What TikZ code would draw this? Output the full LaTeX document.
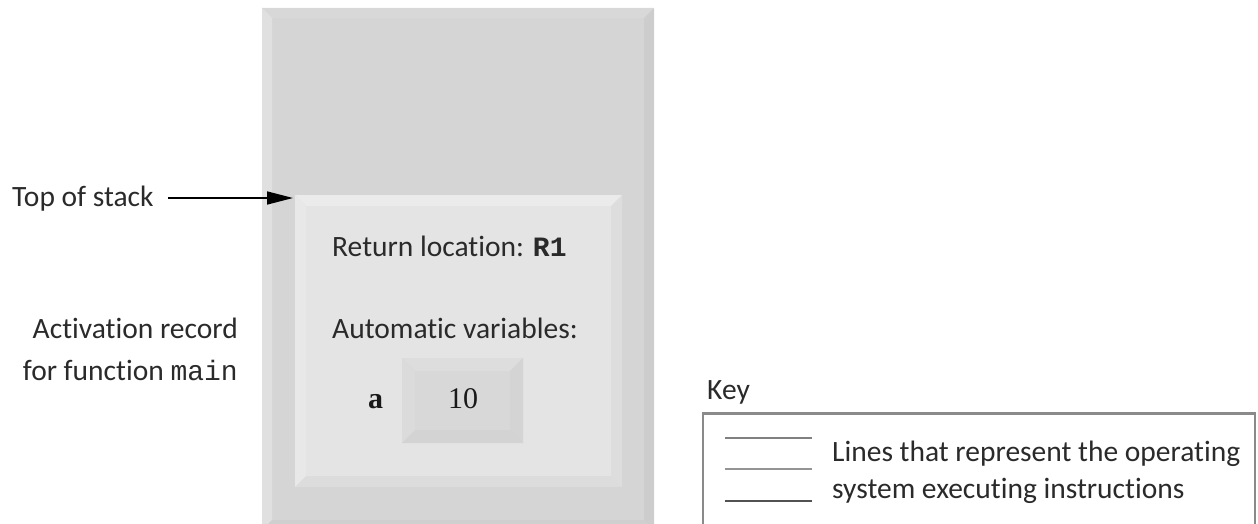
\documentclass[tikz,border=0pt]{standalone}
\usepackage{fontspec}
\setmainfont{Carlito}[Ligatures={NoCommon}]
\newfontfamily\monofnt{Liberation Mono}
\newfontfamily\seriffnt{Liberation Serif}
\usetikzlibrary{arrows.meta}
\definecolor{colF}{HTML}{D5D5D5}
\definecolor{colT}{HTML}{D8D8D8}
\definecolor{colL}{HTML}{E0E0E0}
\definecolor{colR}{HTML}{CDCDCD}
\definecolor{colB}{HTML}{CFCFCF}
\definecolor{recF}{HTML}{E4E4E4}
\definecolor{recT}{HTML}{EBEBEB}
\definecolor{recL}{HTML}{E8E8E8}
\definecolor{recR}{HTML}{DDDDDD}
\definecolor{recB}{HTML}{DCDCDC}
\definecolor{valF}{HTML}{D8D8D8}
\definecolor{valT}{HTML}{DDDDDD}
\definecolor{valL}{HTML}{DBDBDB}
\definecolor{valR}{HTML}{D4D4D4}
\definecolor{valB}{HTML}{D3D3D3}
\definecolor{keygray}{HTML}{8A8A8A}
\definecolor{txt}{HTML}{2A2A2A}
% #1 x1, #2 y1, #3 x2, #4 y2, #5 inset, #6 colour prefix
\newcommand\bvlbox[6]{%
  \fill[#6F] (#1,#2) rectangle (#3,#4);
  \fill[#6T] (#1,#2) -- (#3,#2) -- (#3-#5,#2+#5) -- (#1+#5,#2+#5) -- cycle;
  \fill[#6L] (#1,#2) -- (#1+#5,#2+#5) -- (#1+#5,#4-#5) -- (#1,#4) -- cycle;
  \fill[#6R] (#3,#2) -- (#3,#4) -- (#3-#5,#4-#5) -- (#3-#5,#2+#5) -- cycle;
  \fill[#6B] (#1,#4) -- (#3,#4) -- (#3-#5,#4-#5) -- (#1+#5,#4-#5) -- cycle;
}
\tikzset{
  lbl/.style={inner sep=0pt, text=txt, font=\fontsize{29.5}{36}\selectfont},
  numlbl/.style={inner sep=0pt, text=black!90, font=\seriffnt\fontsize{30}{36}\selectfont},
  arr/.style={line width=1.6pt, -{Triangle[length=26pt,width=13pt]}},
  keyline/.style={line width=2.6pt}
}
\begin{document}
\begin{tikzpicture}[x=1pt,y=-1pt]
\useasboundingbox (0,0) rectangle (1258,524);
% stack column
\bvlbox{262}{8}{654}{530}{10}{col}
\fill[colT] (262,8) rectangle (654,9);
% activation record
\bvlbox{295}{195}{622}{487}{11}{rec}
% value box
\bvlbox{402}{358}{523}{443}{13}{val}
\coordinate (rec) at (293,198);

\node[lbl, anchor=base west] (tos) at (12,206) {Top of stack};
\draw[arr] ([xshift=14pt]tos.east |- rec) -- (rec);

\node[lbl, anchor=base east] (act1) at (238,338) {Activation record};
\node[lbl, anchor=base east] (act2) at (238,380) {for function {\monofnt\fontsize{28}{36}\selectfont main}};

\node[lbl, anchor=base west] (ret) at (332,256) {Return location: {\monofnt\bfseries\fontsize{28}{36}\selectfont R1}};
\node[lbl, anchor=base west] (auto) at (332,338) {Automatic variables:};
\node[numlbl, anchor=base west, font=\seriffnt\bfseries\fontsize{30}{36}\selectfont] (va) at (368,408) {a};
\node[numlbl, anchor=base] (v10) at (463,408) {10};

% key
\node[lbl, anchor=base west] (key) at (707,399) {Key};
\draw[keygray, line width=1.5pt] (703,530) -- (703,413) -- (1255,413) -- (1255,530);
\draw[keygray, line width=3pt] (703,413) -- (1255,413);
\coordinate (l1a) at (725,438); \coordinate (l1b) at (812,438);
\coordinate (l2a) at (725,469); \coordinate (l2b) at (812,469);
\coordinate (l3a) at (725,501); \coordinate (l3b) at (812,501);
\draw[keyline, color=black!50] (l1a) -- (l1b);
\draw[keyline, color=black!42] (l2a) -- (l2b);
\draw[keyline, color=black!68] (l3a) -- (l3b);
\node[lbl, anchor=base west] (k1) at (832,461) {Lines that represent the operating};
\node[lbl, anchor=base west] (k2) at (832,498) {system executing instructions};
\end{tikzpicture}
\end{document}
